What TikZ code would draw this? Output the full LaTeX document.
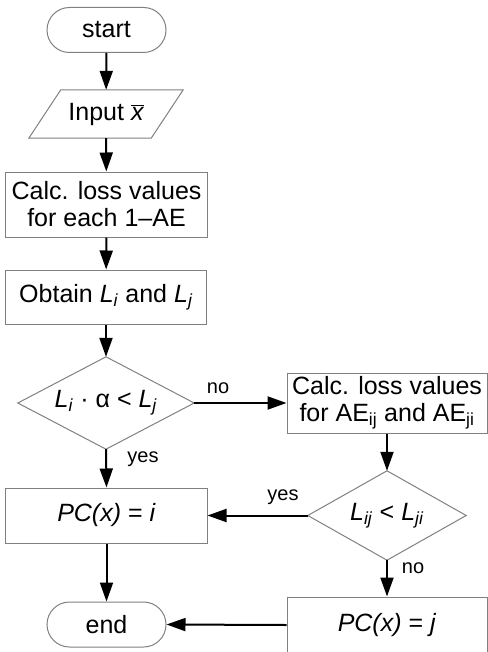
\documentclass[tikz,border=0pt]{standalone}
\usepackage{fontspec}
\setmainfont{Liberation Sans}
\usetikzlibrary{arrows.meta}
\definecolor{edgegray}{gray}{0.5}
\begin{document}
\begin{tikzpicture}[x=1bp,y=-1bp,
  every node/.style={font=\fontsize{25bp}{27bp}\selectfont},
  shapebox/.style={rectangle, draw=edgegray, line width=1bp, inner sep=0, align=center},
  term/.style={shapebox, rounded corners=22.5bp, minimum width=119bp, minimum height=45bp},
  ghost/.style={rectangle, inner sep=0, align=center},
  outline/.style={draw=edgegray, line width=1bp, line join=miter},
  flow/.style={line width=2bp, -{Triangle[width=13bp,length=19bp]}},
  lbl/.style={font=\fontsize{20bp}{22bp}\selectfont, inner sep=0}]
\clip (0,0) rectangle (488,652);
% left column
\node[term] (start) at (106.5,30) {start};
\node[ghost, minimum width=122bp, minimum height=48bp] (inp) at (106,114) {Input $\overline{\textit{x}}$};
\draw[outline] ([xshift=16bp]inp.north west) -- ([xshift=16bp]inp.north east)
  -- ([xshift=-16bp]inp.south east) -- ([xshift=-16bp]inp.south west) -- cycle;
\node[shapebox, minimum width=201bp, minimum height=65bp] (calc1) at (106.5,204.5)
  {Calc. loss values\\for each 1\textendash AE};
\node[shapebox, minimum width=200bp, minimum height=54bp] (obt) at (106,297)
  {Obtain \textit{L}\textsubscript{\textit{i}} and \textit{L}\textsubscript{\textit{j}}};
\node[ghost, minimum width=176bp, minimum height=92bp] (d1) at (106,403)
  {\textit{L}\textsubscript{\textit{i}} · α < \textit{L}\textsubscript{\textit{j}}};
\draw[outline] (d1.north) -- (d1.east) -- (d1.south) -- (d1.west) -- cycle;
\node[shapebox, minimum width=201bp, minimum height=55bp] (pci) at (106.5,515.5)
  {\textit{PC(x)} = \textit{i}};
\node[term] (end) at (106.5,624.5) {end};
% right column
\node[shapebox, minimum width=200bp, minimum height=60bp] (calc2) at (387,403)
  {Calc. loss values\\for AE\textsubscript{ij} and AE\textsubscript{ji}};
\node[ghost, minimum width=158bp, minimum height=89bp] (d2) at (387,515.5)
  {\textit{L}\textsubscript{\textit{ij}} < \textit{L}\textsubscript{\textit{ji}}};
\draw[outline] (d2.north) -- (d2.east) -- (d2.south) -- (d2.west) -- cycle;
\node[shapebox, minimum width=200bp, minimum height=56bp] (pcj) at (387,625)
  {\textit{PC(x)} = \textit{j}};
% connectors
\draw[flow] (start) -- (inp);
\draw[flow] (inp) -- (calc1);
\draw[flow] (calc1) -- (obt);
\draw[flow] (obt) -- (d1);
\draw[flow] (d1.east) -- (calc2.west);
\draw[flow] (d1.south) -- (pci.north);
\draw[flow] (calc2) -- (d2);
\draw[flow] (d2.west) -- (pci.east);
\draw[flow] (d2.south) -- (pcj.north);
\draw[flow] (pci) -- (end);
\draw[flow] (pcj.west) -- (end.east);
% labels
\node[lbl] (no1) at (218,388) {no};
\node[lbl] (yes1) at (143,459) {yes};
\node[lbl] (yes2) at (283,497) {yes};
\node[lbl] (no2) at (413,568) {no};
\end{tikzpicture}
\end{document}
